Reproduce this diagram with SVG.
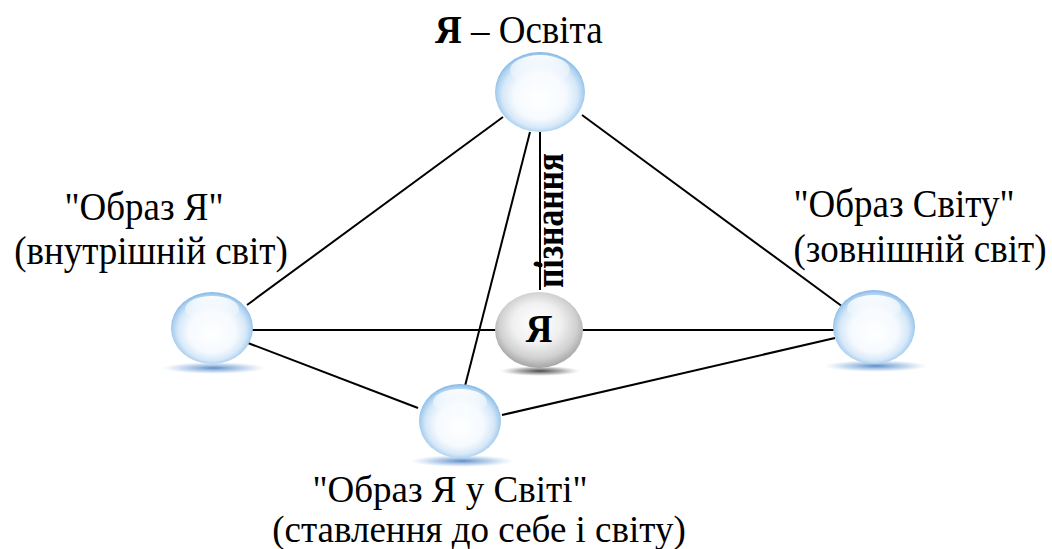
<svg xmlns="http://www.w3.org/2000/svg" width="1052" height="549" viewBox="0 0 1052 549">
  <style>
    .lbl { font-family: "Liberation Serif", "Times New Roman", serif; font-size: 37px; fill: #000; }
    .b { font-weight: bold; }
    .conn { stroke: #000; stroke-width: 2; fill: none; }
  </style>
  <defs>
    <radialGradient id="bubble" cx="50%" cy="52%" r="52%" fx="50%" fy="60%">
      <stop offset="0" stop-color="#ffffff"/>
      <stop offset="0.55" stop-color="#f6fafe"/>
      <stop offset="0.8" stop-color="#d6e8f8"/>
      <stop offset="0.93" stop-color="#a9cff0"/>
      <stop offset="1" stop-color="#82b5e4"/>
    </radialGradient>
    <linearGradient id="hl" x1="0" y1="0" x2="0" y2="1">
      <stop offset="0" stop-color="#ffffff" stop-opacity="0.95"/>
      <stop offset="1" stop-color="#ffffff" stop-opacity="0"/>
    </linearGradient>
    <radialGradient id="bshadow" cx="50%" cy="50%" r="50%">
      <stop offset="0" stop-color="#4a80c2" stop-opacity="0.9"/>
      <stop offset="0.6" stop-color="#7fa9da" stop-opacity="0.45"/>
      <stop offset="1" stop-color="#a9c6ea" stop-opacity="0"/>
    </radialGradient>
    <radialGradient id="grey" cx="50%" cy="45%" r="55%" fx="45%" fy="38%">
      <stop offset="0" stop-color="#ffffff"/>
      <stop offset="0.5" stop-color="#f0f0f0"/>
      <stop offset="0.8" stop-color="#d0d0d0"/>
      <stop offset="1" stop-color="#a4a4a4"/>
    </radialGradient>
    <radialGradient id="gshadow" cx="50%" cy="50%" r="50%">
      <stop offset="0" stop-color="#333333" stop-opacity="0.9"/>
      <stop offset="0.6" stop-color="#666666" stop-opacity="0.45"/>
      <stop offset="1" stop-color="#999999" stop-opacity="0"/>
    </radialGradient>
  </defs>

  <g id="connectors">
    <line class="conn" x1="503" y1="117" x2="247" y2="305"/>
    <line class="conn" x1="582" y1="115" x2="843" y2="307"/>
    <line class="conn" x1="530" y1="132" x2="465" y2="386"/>
    <line class="conn" x1="540" y1="132" x2="540" y2="290"/>
    <circle cx="540" cy="265" r="2.5" fill="#000"/>
    <line class="conn" x1="252" y1="330" x2="500" y2="330"/>
    <line class="conn" x1="580" y1="330" x2="836" y2="330"/>
    <line class="conn" x1="248" y1="343" x2="418" y2="408"/>
    <line class="conn" x1="502" y1="415" x2="835" y2="338"/>
  </g>

  <g id="node-top">
    <ellipse cx="540" cy="92" rx="45" ry="40" fill="url(#bubble)"/>
    <ellipse cx="540" cy="70" rx="30" ry="15" fill="url(#hl)"/>
    <text class="lbl" transform="translate(435,43) scale(1,1.07)"><tspan class="b">Я</tspan> – Освіта</text>
  </g>

  <g id="node-left">
    <ellipse cx="214" cy="368" rx="52" ry="6" fill="url(#bshadow)"/>
    <ellipse cx="212" cy="328" rx="41" ry="36" fill="url(#bubble)"/>
    <ellipse cx="212" cy="309" rx="27" ry="13" fill="url(#hl)"/>
    <text class="lbl" transform="translate(144,220) scale(1,1.07)" text-anchor="middle">"Образ Я"</text>
    <text class="lbl" transform="translate(151,264) scale(1,1.07)" text-anchor="middle">(внутрішній світ)</text>
  </g>

  <g id="node-right">
    <ellipse cx="876" cy="366" rx="52" ry="6" fill="url(#bshadow)"/>
    <ellipse cx="874" cy="327" rx="41" ry="37" fill="url(#bubble)"/>
    <ellipse cx="874" cy="308" rx="27" ry="13" fill="url(#hl)"/>
    <text class="lbl" transform="translate(904,217) scale(1,1.07)" text-anchor="middle">"Образ Світу"</text>
    <text class="lbl" transform="translate(920,262) scale(1,1.07)" text-anchor="middle">(зовнішній світ)</text>
  </g>

  <g id="node-bottom">
    <ellipse cx="462" cy="461" rx="52" ry="6" fill="url(#bshadow)"/>
    <ellipse cx="460" cy="421" rx="41" ry="37" fill="url(#bubble)"/>
    <ellipse cx="460" cy="402" rx="27" ry="13" fill="url(#hl)"/>
    <text class="lbl" x="450" y="502" text-anchor="middle">"Образ Я у Світі"</text>
    <text class="lbl" x="479" y="542" text-anchor="middle">(ставлення до себе і світу)</text>
  </g>

  <g id="node-center">
    <ellipse cx="540" cy="371" rx="40" ry="5" fill="url(#gshadow)"/>
    <ellipse cx="539" cy="330" rx="44" ry="38" fill="url(#grey)"/>
    <text class="lbl b" transform="translate(539,342) scale(1,1.07)" text-anchor="middle">Я</text>
  </g>

  <g id="label-piznannia">
    <text class="lbl b" transform="translate(563,288) rotate(-90) scale(1,1.15)" font-size="30" textLength="135" lengthAdjust="spacingAndGlyphs">пізнання</text>
  </g>
</svg>
